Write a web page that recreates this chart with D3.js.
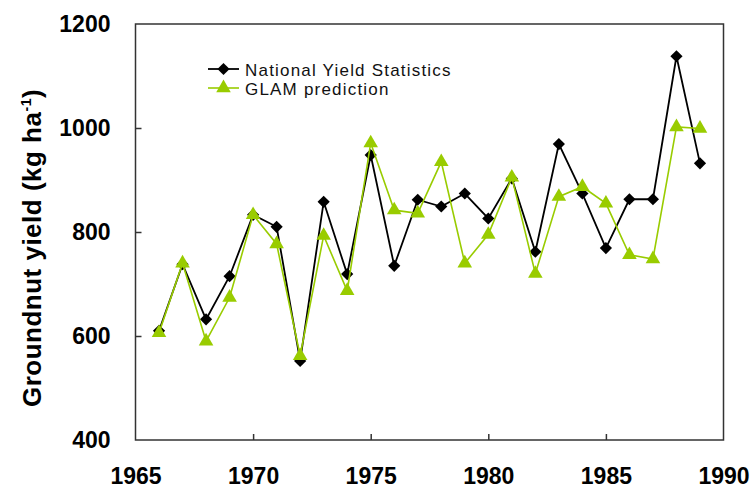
<!DOCTYPE html>
<html><head><meta charset="utf-8">
<script src="https://cdn.jsdelivr.net/npm/d3@7"></script>
<style>body{margin:0;background:#fff}svg{display:block}</style>
</head><body>
<svg id="c" width="752" height="489"></svg>
<script>
const years = [1966,1967,1968,1969,1970,1971,1972,1973,1974,1975,1976,1977,1978,1979,1980,1981,1982,1983,1984,1985,1986,1987,1988,1989];
const national = [610,738,632,715,833,810,552,858,719,948,735,862,849,874,826,903,762,969,874,769,863,863,1138,932];
const glam = [606,740,590,674,833,777,562,793,687,971,842,836,935,740,795,905,720,868,887,855,756,748,1002,999];
const xTicks = [1965,1970,1975,1980,1985,1990];
const yTicks = [400,600,800,1000,1200];
const seriesNames = ["National Yield Statistics","GLAM prediction"];

const svg = d3.select("#c");
const L=135.5, R=723.5, T=24, B=440;
const x = d3.scaleLinear().domain([1965,1990]).range([L,R]);
const y = d3.scaleLinear().domain([400,1200]).range([B,T]);
const black="#000", green="#99cc00";
const FONT="Liberation Sans, Arial, sans-serif";

svg.append("rect").attr("x",L).attr("y",T).attr("width",R-L).attr("height",B-T)
  .attr("fill","none").attr("stroke","#333").attr("stroke-width",1.5);

const xa = svg.append("g").attr("transform",`translate(0,${B})`)
  .call(d3.axisBottom(x).tickValues(xTicks).tickSizeInner(-6).tickSizeOuter(0).tickPadding(28).tickFormat(d3.format("d")));
const ya = svg.append("g").attr("transform",`translate(${L},0)`)
  .call(d3.axisLeft(y).tickValues(yTicks).tickSizeInner(-6).tickSizeOuter(0).tickPadding(25).tickFormat(d3.format("d")));
[xa,ya].forEach(a=>{
  a.select(".domain").remove();
  a.selectAll(".tick line").attr("stroke","#333").attr("stroke-width",1.5);
  a.selectAll("text").attr("font-family",FONT)
   .attr("font-weight","bold").attr("font-size",23).attr("fill","#000");
});
xa.selectAll(".tick line").filter(d=>d===1965||d===1990).remove();
ya.selectAll(".tick line").filter(d=>d===400||d===1200).remove();

const yl = svg.append("text").attr("transform","translate(41,248) rotate(-90)")
  .attr("text-anchor","middle").attr("font-family",FONT).attr("letter-spacing",0.5)
  .attr("font-weight","bold").attr("font-size",26).attr("fill","#000");
yl.append("tspan").text("Groundnut yield (kg ha");
yl.append("tspan").attr("dy",-10).attr("font-size",14).text("-1");
yl.append("tspan").attr("dy",10).text(")");

const line = d3.line().x((d,i)=>x(years[i])).y(d=>y(d));
const diamond = d3.symbol().type(d3.symbolDiamond2).size(95);
const tri = d3.symbol().type(d3.symbolTriangle).size(92);

function drawSeries(vals,color,sym,w){
  svg.append("path").datum(vals).attr("d",line).attr("fill","none").attr("stroke",color).attr("stroke-width",w);
  svg.append("g").selectAll("path").data(vals).join("path")
    .attr("d",sym).attr("fill",color)
    .attr("transform",(d,i)=>`translate(${x(years[i])},${y(d)})`);
}
drawSeries(national,black,diamond,1.8);
drawSeries(glam,green,tri,1.6);

const lg = svg.append("g");
const items=[{n:seriesNames[0],c:black,s:diamond,yy:69,sw:1.8},{n:seriesNames[1],c:green,s:tri,yy:88,sw:1.6}];
items.forEach(it=>{
  lg.append("line").attr("x1",208).attr("x2",239).attr("y1",it.yy).attr("y2",it.yy).attr("stroke",it.c).attr("stroke-width",it.sw);
  lg.append("path").attr("d",it.s).attr("fill",it.c).attr("transform",`translate(223.5,${it.yy})`);
  lg.append("text").attr("x",245).attr("y",it.yy+7).text(it.n)
    .attr("font-family",FONT).attr("font-size",17).attr("letter-spacing",1.2).attr("fill","#111");
});
</script>
</body></html>
